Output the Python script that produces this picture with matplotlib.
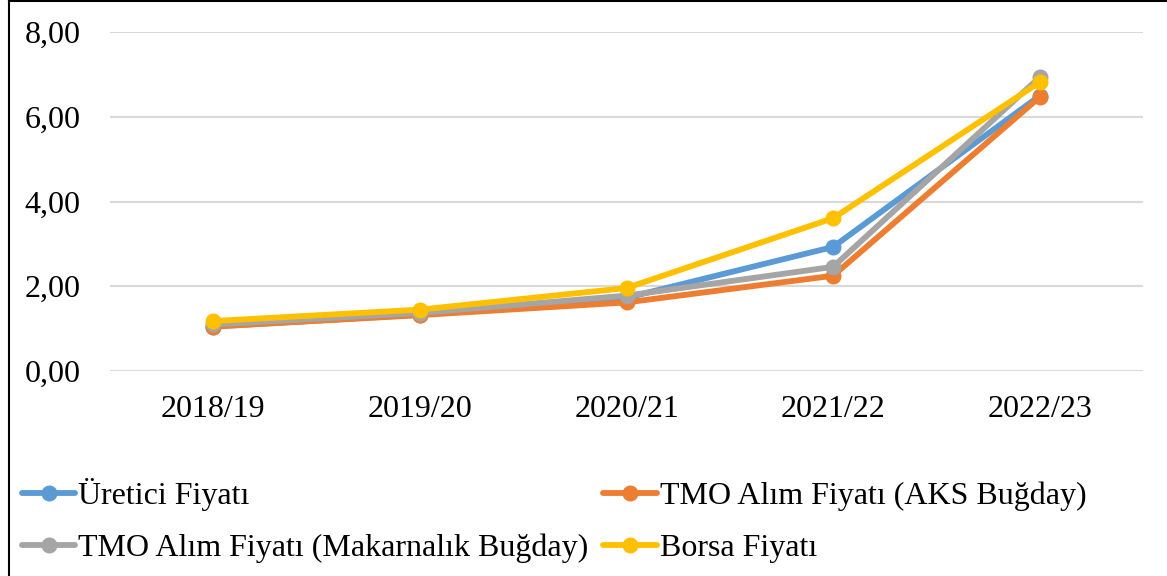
import matplotlib
matplotlib.use("Agg")
import matplotlib.pyplot as plt
from matplotlib.lines import Line2D

plt.rcParams['font.family'] = ['Liberation Serif', 'DejaVu Serif']

categories = ["2018/19", "2019/20", "2020/21", "2021/22", "2022/23"]
uretici = [1.05, 1.33, 1.73, 2.93, 6.50]
tmo_aks = [1.05, 1.32, 1.62, 2.25, 6.47]
tmo_makarnalik = [1.10, 1.37, 1.78, 2.46, 6.94]
borsa = [1.18, 1.45, 1.96, 3.61, 6.82]

names = ["Üretici Fiyatı", "TMO Alım Fiyatı (AKS Buğday)",
         "TMO Alım Fiyatı (Makarnalık Buğday)", "Borsa Fiyatı"]
colors = ["#5B9BD5", "#ED7D31", "#A5A5A5", "#FFC000"]
yticks = [0, 2, 4, 6, 8]
ytick_labels = ["0,00", "2,00", "4,00", "6,00", "8,00"]

W, H = 1167, 576
FS = 23
fig = plt.figure(figsize=(W / 100, H / 100), dpi=100)
ax = fig.add_axes([110 / W, (H - 371) / H, (1143 - 110) / W, (371 - 32.3) / H])

x = list(range(len(categories)))
handles = []
for vals, name, c in zip([uretici, tmo_aks, tmo_makarnalik, borsa], names, colors):
    h, = ax.plot(x, vals, color=c, lw=4.2, marker='o', markersize=10.5,
                 solid_capstyle='round', label=name, zorder=3)
    handles.append(h)

ax.set_xlim(-0.5, len(categories) - 0.5)
ax.set_ylim(0, 8)
ax.set_yticks(yticks)
ax.set_yticklabels(ytick_labels)
ax.set_xticks(x)
ax.set_xticklabels(categories)
ax.tick_params(axis='both', length=0, labelsize=FS)
ax.tick_params(axis='y', pad=21)
ax.tick_params(axis='x', pad=17)
ax.grid(axis='y', color='#D9D9D9', lw=1.5, zorder=0)
for s in ax.spines.values():
    s.set_visible(False)

order = [0, 2, 1, 3]
leg = fig.legend([handles[i] for i in order], [names[i] for i in order],
                 ncol=2, loc='upper left',
                 bbox_to_anchor=(22 / W, (H - 478) / H),
                 frameon=False, fontsize=FS, borderpad=0, borderaxespad=0,
                 handlelength=1.66, handletextpad=0.1, columnspacing=0.47,
                 labelspacing=0.7)

# figure border (top and left)
fig.add_artist(Line2D([8.5 / W, 1.0], [1 - 1 / H, 1 - 1 / H], color='black', lw=1.5,
                      transform=fig.transFigure))
fig.add_artist(Line2D([8.5 / W, 8.5 / W], [0, 1 - 1 / H], color='black', lw=1.5,
                      transform=fig.transFigure))

fig.savefig("out.png", dpi=100)
